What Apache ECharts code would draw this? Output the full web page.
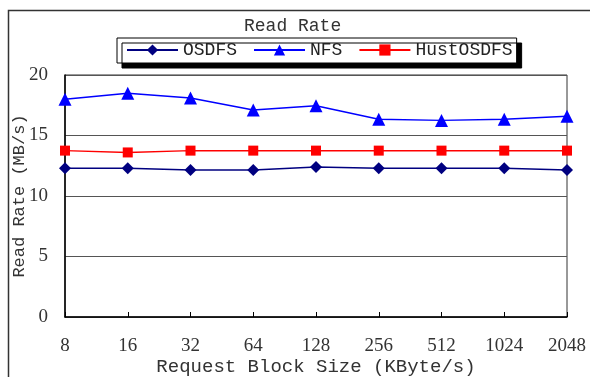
<!DOCTYPE html>
<html>
<head>
<meta charset="utf-8">
<script src="https://cdn.jsdelivr.net/npm/echarts@6/dist/echarts.min.js"></script>
<style>
  html, body { margin: 0; padding: 0; background: #fff; }
  #main { width: 590px; height: 377px; }
</style>
</head>
<body>
<div id="main"></div>
<script>
// block sizes on the x axis
var blockSizes = ['8', '16', '32', '64', '128', '256', '512', '1024', '2048'];
// read rate values (MB/s)
var osdfs = [12.3, 12.3, 12.15, 12.15, 12.4, 12.3, 12.3, 12.3, 12.15];
var nfs = [18.0, 18.5, 18.1, 17.1, 17.45, 16.35, 16.25, 16.35, 16.6];
var hustOsdfs = [13.75, 13.6, 13.75, 13.75, 13.75, 13.75, 13.75, 13.75, 13.75];
var yTicks = [0, 5, 10, 15, 20];

var font = 'Liberation Mono';
var numFont = 'Liberation Serif';
var myChart = echarts.init(document.getElementById('main'));

var option = {
  backgroundColor: '#fff',
  animation: false,
  textStyle: { fontFamily: font },
  title: {
    text: 'Read Rate',
    left: 239,
    top: 12,
    textStyle: { fontFamily: font, fontSize: 18, fontWeight: 'normal', color: '#333' }
  },
  legend: {
    left: 117,
    top: 38,
    itemWidth: 51,
    itemHeight: 14,
    itemGap: 16,
    padding: [3, 4, 4, 9],
    backgroundColor: '#fff',
    borderColor: '#000',
    borderWidth: 1,
    shadowColor: '#000',
    shadowBlur: 0,
    shadowOffsetX: 5,
    shadowOffsetY: 5,
    textStyle: { fontFamily: font, fontSize: 18, color: '#222' },
    data: ['OSDFS', 'NFS', 'HustOSDFS']
  },
  graphic: [{
    type: 'rect',
    left: 6,
    top: 8,
    shape: { width: 620, height: 400 },
    style: { fill: 'none', stroke: '#333', lineWidth: 1.5 },
    z: -1
  }],
  grid: {
    left: 65,
    top: 75,
    right: 23,
    bottom: 60,
    outerBoundsMode: 'none',
    show: true,
    borderColor: '#333',
    borderWidth: 1
  },
  xAxis: {
    type: 'category',
    boundaryGap: false,
    data: blockSizes,
    name: 'Request Block Size (KByte/s)',
    nameLocation: 'middle',
    nameGap: 40,
    nameMoveOverlap: false,
    nameTextStyle: { fontFamily: font, fontSize: 19, color: '#333' },
    axisLine: { lineStyle: { color: '#000', width: 1.5 } },
    axisTick: { inside: true, length: 5, lineStyle: { color: '#000' } },
    axisLabel: { margin: 20, fontFamily: numFont, fontSize: 19, color: '#333' },
    splitLine: { show: false }
  },
  yAxis: {
    type: 'value',
    min: yTicks[0],
    max: yTicks[yTicks.length - 1],
    interval: 5,
    name: 'Read Rate (MB/s)',
    nameLocation: 'middle',
    nameGap: 37,
    nameMoveOverlap: false,
    nameTextStyle: { fontFamily: font, fontSize: 17, color: '#333' },
    axisLine: { show: true, lineStyle: { color: '#000', width: 1.5 } },
    axisTick: { show: false },
    axisLabel: { margin: 17, fontFamily: numFont, fontSize: 19, color: '#333' },
    splitLine: { lineStyle: { color: '#555', width: 1 } }
  },
  series: [
    {
      name: 'OSDFS',
      type: 'line',
      data: osdfs,
      symbol: 'diamond',
      symbolSize: 12,
      color: '#000080',
      lineStyle: { width: 1.5 }
    },
    {
      name: 'NFS',
      type: 'line',
      data: nfs,
      symbol: 'triangle',
      symbolSize: 13,
      color: '#0000ff',
      lineStyle: { width: 1.5 }
    },
    {
      name: 'HustOSDFS',
      type: 'line',
      data: hustOsdfs,
      symbol: 'rect',
      symbolSize: 10,
      color: '#ff0000',
      lineStyle: { width: 1.5 }
    }
  ]
};

myChart.setOption(option);
window.addEventListener('resize', function () {
  myChart.resize();
});
</script>
</body>
</html>
